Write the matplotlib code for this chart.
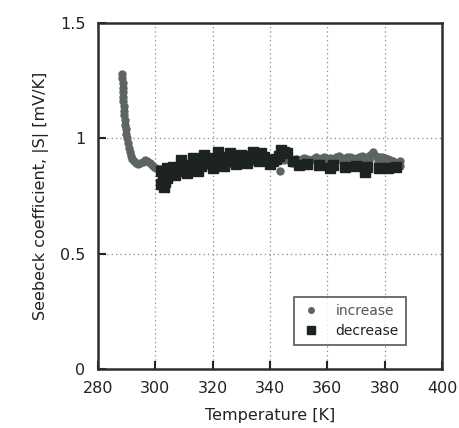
import matplotlib
matplotlib.use("Agg")
import matplotlib.pyplot as plt

# increasing temperature run (grey)
inc_T = [288.5, 288.5, 288.6, 288.6, 288.7, 288.7, 288.8, 288.9, 289.0, 289.2,
         289.3, 289.5, 289.7, 289.9, 290.1, 290.4, 290.7, 291.0, 291.4, 291.9,
         292.5, 293.2, 294.0, 294.8, 295.6, 296.4, 297.2, 298.0, 298.8, 299.6,
         300.4, 301.2, 302, 303, 304, 305, 306, 307, 308, 309,
         310, 311, 312, 313, 314, 315, 316, 317, 318, 319,
         320, 321, 322, 323, 324, 325, 326, 327, 328, 329,
         330, 331, 332, 333, 334, 335, 336, 337, 338, 339,
         340, 341, 342, 343.5, 343, 344, 345, 346, 347, 348,
         349, 350, 351, 352, 353, 354, 355, 356, 357, 358,
         359, 360, 361, 362, 363, 364, 365, 366, 367, 368,
         369, 370, 371, 372, 373, 374, 375, 376, 377, 378,
         379, 380, 381, 382, 383, 384, 385, 385.5,
         347.5, 350.5, 353.5, 356.5, 359.5, 362.5, 365.5, 368.5, 371.5, 374.5,
         377.5, 380.5, 383.5, 385.5]
inc_S = [1.28, 1.26, 1.24, 1.22, 1.20, 1.18, 1.16, 1.14, 1.12, 1.10,
         1.08, 1.06, 1.04, 1.02, 1.00, 0.98, 0.96, 0.94, 0.925, 0.91,
         0.90, 0.895, 0.89, 0.892, 0.898, 0.905, 0.90, 0.893, 0.885, 0.878,
         0.872, 0.868, 0.866, 0.86, 0.862, 0.866, 0.87, 0.868, 0.872, 0.875,
         0.87, 0.874, 0.878, 0.88, 0.876, 0.882, 0.885, 0.88, 0.886, 0.89,
         0.885, 0.888, 0.892, 0.89, 0.894, 0.89, 0.895, 0.90, 0.896, 0.90,
         0.898, 0.902, 0.90, 0.905, 0.90, 0.903, 0.898, 0.905, 0.902, 0.90,
         0.904, 0.906, 0.902, 0.86, 0.905, 0.91, 0.906, 0.91, 0.904, 0.908,
         0.912, 0.906, 0.91, 0.915, 0.91, 0.905, 0.912, 0.918, 0.91, 0.915,
         0.92, 0.912, 0.915, 0.91, 0.918, 0.922, 0.915, 0.91, 0.918, 0.92,
         0.915, 0.912, 0.918, 0.925, 0.92, 0.915, 0.93, 0.94, 0.925, 0.918,
         0.92, 0.915, 0.91, 0.905, 0.90, 0.895, 0.89, 0.88,
         0.895, 0.893, 0.898, 0.90, 0.897, 0.9, 0.898, 0.902, 0.9, 0.905,
         0.9, 0.898, 0.89, 0.9]

# decreasing temperature run (black squares)
dec_T = [384, 381, 378, 374, 373, 370, 366, 362, 361, 357,
         353, 350, 348, 346, 345, 344, 343, 342,
         341, 340, 339, 338, 337, 336, 335, 334, 333, 332,
         331, 330, 329, 328, 327, 326, 325, 324, 323, 322,
         321, 320, 319, 318, 317, 316, 315, 314, 313, 312,
         311, 310, 309, 308, 307, 306, 305, 304, 304, 303.5,
         303, 303, 302.5, 302, 302]
dec_S = [0.876, 0.872, 0.87, 0.878, 0.854, 0.88, 0.875, 0.885, 0.87, 0.885,
         0.89, 0.885, 0.9, 0.935, 0.94, 0.95, 0.925, 0.91,
         0.90, 0.89, 0.905, 0.92, 0.935, 0.90, 0.915, 0.94, 0.925, 0.895,
         0.91, 0.93, 0.905, 0.89, 0.915, 0.935, 0.90, 0.88, 0.92, 0.94,
         0.90, 0.87, 0.895, 0.915, 0.93, 0.88, 0.86, 0.90, 0.915, 0.87,
         0.85, 0.885, 0.905, 0.86, 0.84, 0.875, 0.85, 0.83, 0.87, 0.81,
         0.79, 0.84, 0.82, 0.86, 0.80]

x_ticks = [280, 300, 320, 340, 360, 380, 400]
y_ticks = [0, 0.5, 1, 1.5]
y_tick_labels = ["0", "0.5", "1", "1.5"]

plt.rcParams['font.family'] = ['DejaVu Sans']

fig = plt.figure(figsize=(4.59, 4.28), dpi=100)
ax = fig.add_axes([0.2135, 0.138, 0.7495, 0.808])

ax.plot(inc_T, inc_S, linestyle="none", marker="o", markersize=5,
        color="#5d6463", label="increase", zorder=3)
ax.plot(dec_T, dec_S, linestyle="none", marker="s", markersize=7,
        color="#1d2322", label="decrease", zorder=4)

ax.set_xlim(280, 400)
ax.set_ylim(0, 1.5)
ax.set_xticks(x_ticks)
ax.set_yticks(y_ticks)
ax.set_yticklabels(y_tick_labels)
ax.tick_params(direction="in", length=6, width=1.5, labelsize=11.5,
               colors="#222222", pad=9)
ax.grid(True, linestyle=(0, (1, 2.5)), color="#888888", linewidth=0.9)
for s in ax.spines.values():
    s.set_linewidth(1.8)
    s.set_color("#2a2f2e")

ax.set_xlabel("Temperature [K]", fontsize=11.5, color="#222222", labelpad=8)
ax.set_ylabel("Seebeck coefficient, |S| [mV/K]", fontsize=11.5,
              color="#222222", labelpad=8)

leg = ax.legend(loc="lower right", bbox_to_anchor=(0.915, 0.05),
                fontsize=10, frameon=True, fancybox=False,
                edgecolor="#2a2f2e", borderpad=0.5, handletextpad=1.0,
                handlelength=1.5, markerscale=0.8, labelspacing=0.4)
leg.get_frame().set_linewidth(1.2)
leg.get_texts()[0].set_color("#555555")
leg.get_texts()[1].set_color("#222222")

fig.savefig("out.png", dpi=100)
